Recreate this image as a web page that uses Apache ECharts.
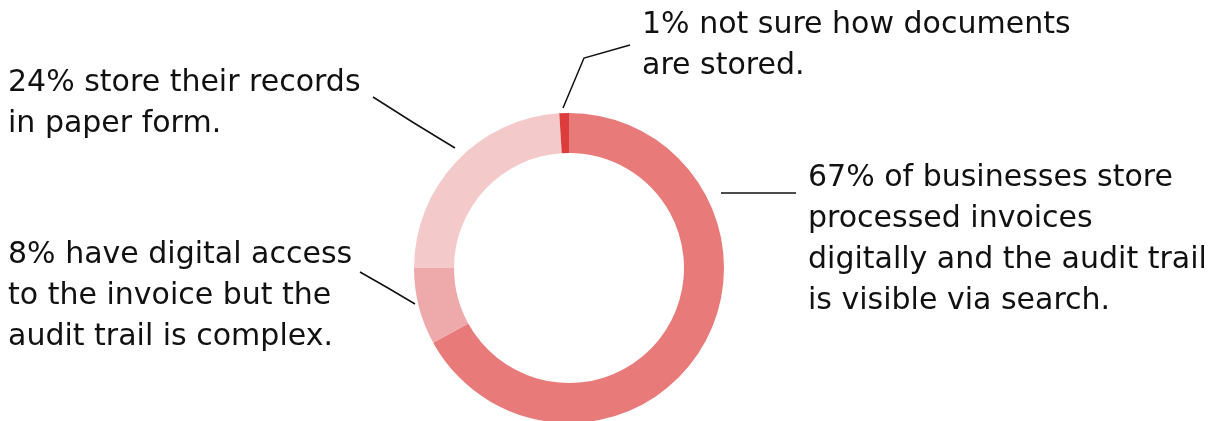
<!DOCTYPE html>
<html>
<head>
<meta charset="utf-8">
<script src="https://cdn.jsdelivr.net/npm/echarts@6/dist/echarts.min.js"></script>
<style>
  html, body { margin: 0; padding: 0; background: #ffffff; }
  #chart { width: 1213px; height: 421px; }
</style>
</head>
<body>
<div id="chart"></div>
<script>
// How businesses store processed invoices (share of respondents, %)
const categories = [
  'Digital, audit trail searchable',
  'Digital, audit trail complex',
  'Paper form',
  'Not sure'
];
const shares = [67, 8, 24, 1];
const captions = [
  '67% of businesses store\nprocessed invoices\ndigitally and the audit trail\nis visible via search.',
  '8% have digital access\nto the invoice but the\naudit trail is complex.',
  '24% store their records\nin paper form.',
  '1% not sure how documents\nare stored.'
];
const sliceColors = ['#e87b7a', '#eeaaaa', '#f4c9ca', '#dc3c3c'];

// Caption placement (top-left corner) and leader-line paths, in pixels
const captionLayout = [
  { x: 808, y: 158, line: [[721, 193], [758, 193], [796, 193]] },
  { x: 8,   y: 235, line: [[415, 304], [388, 288], [360, 272]] },
  { x: 8,   y: 63,  line: [[455, 148], [414, 123], [373, 97]] },
  { x: 642, y: 5,   line: [[563, 108], [584, 58], [630, 45]] }
];

const chart = echarts.init(document.getElementById('chart'), null, { renderer: 'canvas' });

chart.setOption({
  animation: false,
  backgroundColor: '#ffffff',
  series: [{
    type: 'pie',
    center: [569, 268],
    radius: [115, 155],
    startAngle: 90,
    clockwise: true,
    avoidLabelOverlap: false,
    silent: true,
    emphasis: { disabled: true },
    data: categories.map((name, i) => ({
      name: name,
      value: shares[i],
      itemStyle: { color: sliceColors[i] }
    })),
    label: {
      show: true,
      position: 'outside',
      formatter: p => captions[p.dataIndex],
      fontFamily: 'DejaVu Sans',
      fontSize: 30,
      lineHeight: 41,
      color: '#111111',
      align: 'left'
    },
    labelLine: {
      show: true,
      smooth: false,
      length: 20,
      length2: 20,
      lineStyle: { color: '#111111', width: 1.5 }
    },
    labelLayout: function (params) {
      const c = captionLayout[params.dataIndex];
      return {
        x: c.x,
        y: c.y,
        align: 'left',
        verticalAlign: 'top',
        labelLinePoints: c.line
      };
    }
  }]
});
</script>
</body>
</html>
